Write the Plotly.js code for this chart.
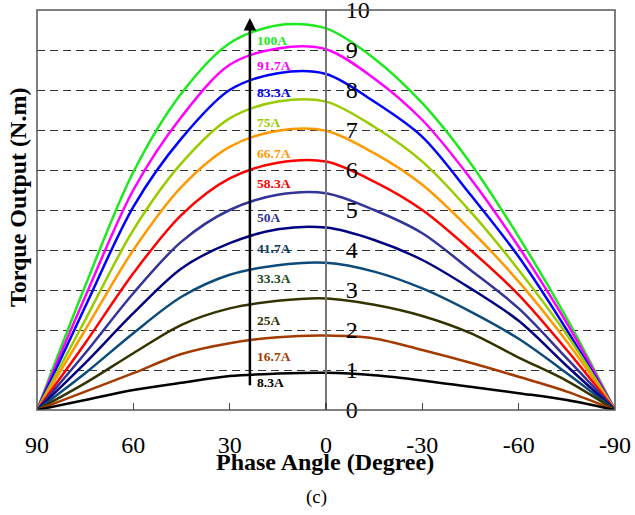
<!DOCTYPE html>
<html>
<head>
<meta charset="utf-8">
<script src="https://cdn.plot.ly/plotly-3.0.1.min.js"></script>
<style>html,body{margin:0;padding:0;background:#fff;}#chart{width:635px;height:515px;}</style>
</head>
<body>
<div id="chart"></div>
<script>
// Phase angle (degree)
const angles = [90, 75, 60, 45, 30, 15, 0, -15, -30, -45, -60, -75, -90];

// Series names (currents)
const currents = ['100A', '91.7A', '83.3A', '75A', '66.7A', '58.3A', '50A', '41.7A', '33.3A', '25A', '16.7A', '8.3A'];

// Torque output (N.m) per current, read at each angle
const t100  = [0, 3.10, 5.95, 7.92, 9.17, 9.62, 9.54, 8.79, 7.67, 6.17, 4.33, 2.29, 0];
const t917  = [0, 2.83, 5.50, 7.33, 8.63, 9.04, 9.02, 8.29, 7.25, 5.79, 4.08, 2.17, 0];
const t833  = [0, 2.58, 5.08, 6.79, 8.00, 8.42, 8.40, 7.71, 6.83, 5.38, 3.83, 2.00, 0];
const t75   = [0, 2.25, 4.50, 6.17, 7.29, 7.71, 7.71, 7.08, 6.21, 4.96, 3.50, 1.88, 0];
const t667  = [0, 2.00, 4.00, 5.58, 6.58, 6.98, 6.98, 6.42, 5.63, 4.50, 3.21, 1.71, 0];
const t583  = [0, 1.67, 3.42, 4.88, 5.79, 6.18, 6.21, 5.71, 5.00, 4.00, 2.88, 1.50, 0];
const t50   = [0, 1.42, 2.92, 4.21, 5.00, 5.38, 5.42, 5.00, 4.42, 3.50, 2.54, 1.29, 0];
const t417  = [0, 1.17, 2.42, 3.54, 4.17, 4.52, 4.56, 4.25, 3.75, 3.04, 2.23, 1.10, 0];
const t333  = [0, 0.92, 1.92, 2.83, 3.38, 3.62, 3.68, 3.46, 3.04, 2.46, 1.78, 0.92, 0];
const t25   = [0, 0.67, 1.42, 2.13, 2.54, 2.73, 2.79, 2.63, 2.35, 1.92, 1.31, 0.73, 0];
const t167  = [0, 0.46, 0.92, 1.40, 1.67, 1.82, 1.86, 1.79, 1.50, 1.18, 0.83, 0.46, 0];
const t83   = [0, 0.25, 0.50, 0.68, 0.85, 0.91, 0.93, 0.87, 0.74, 0.58, 0.42, 0.25, 0];

// Axis ticks
const xTicks = [90, 60, 30, 0, -30, -60, -90];
const yTicks = [0, 1, 2, 3, 4, 5, 6, 7, 8, 9, 10];

const seriesValues = [t100, t917, t833, t75, t667, t583, t50, t417, t333, t25, t167, t83];
const lineColors = ['#1ee81e', '#ff00ff', '#0000ff', '#99cc00', '#ff9900', '#ff0000',
                    '#333399', '#000080', '#0b4a7a', '#333300', '#a33a00', '#000000'];
const labelColors = ['#1ee81e', '#ff00ff', '#0000ff', '#99cc00', '#ff9900', '#ff0000',
                     '#333399', '#0b3d66', '#1a4a1a', '#333300', '#a33a00', '#000000'];
const labelPosY = [9.25, 8.62, 7.95, 7.2, 6.42, 5.67, 4.82, 4.05, 3.3, 2.25, 1.35, 0.7];

const serif = 'Liberation Serif, Times New Roman, serif';

const traces = seriesValues.map((vals, i) => ({
  x: angles,
  y: vals,
  type: 'scatter',
  mode: 'lines',
  name: currents[i],
  line: {color: lineColors[i], width: 2.5, shape: 'spline', smoothing: 0.9},
  hoverinfo: 'skip'
}));

const L = 37, R = 20, T = 10, B = 105, W = 635, H = 515;
const pw = W - L - R, ph = H - T - B;
const px = v => (v - L) / pw;          // pixel x -> paper
const py = v => (H - B - v) / ph;      // pixel y -> paper

const annotations = currents.map((c, i) => ({
  x: 22.2, y: labelPosY[i], xref: 'x', yref: 'y',
  text: '<b>' + c + '</b>', showarrow: false,
  xanchor: 'left', yanchor: 'middle',
  font: {family: serif, size: 13.5, color: labelColors[i]}
}));

// arrow
annotations.push({
  x: 23.7, y: 9.8, ax: 23.7, ay: 0.58, xref: 'x', yref: 'y', axref: 'x', ayref: 'y',
  text: '', showarrow: true, arrowhead: 2, arrowsize: 1, arrowwidth: 2.5, arrowcolor: '#000'
});
// y title
annotations.push({
  x: px(18), y: py(198), xref: 'paper', yref: 'paper', text: '<b>Torque Output (N.m)</b>',
  showarrow: false, textangle: -90, xanchor: 'center', yanchor: 'middle',
  font: {family: serif, size: 24, color: '#000'}
});
// x title
annotations.push({
  x: px(325), y: py(462), xref: 'paper', yref: 'paper', text: '<b>Phase Angle (Degree)</b>',
  showarrow: false, xanchor: 'center', yanchor: 'middle',
  font: {family: serif, size: 24, color: '#000'}
});
// (c)
annotations.push({
  x: px(316), y: py(497), xref: 'paper', yref: 'paper', text: '(c)', showarrow: false,
  xanchor: 'center', yanchor: 'middle', font: {family: serif, size: 19, color: '#000'}
});

const layout = {
  width: W, height: H,
  margin: {l: L, r: R, t: T, b: B, pad: 0},
  paper_bgcolor: '#fff', plot_bgcolor: '#fff',
  showlegend: false,
  hovermode: false,
  font: {family: serif, color: '#000'},
  xaxis: {
    range: [90, -90], tickvals: xTicks, ticktext: xTicks.map(String),
    ticks: 'inside', ticklen: 7, tickwidth: 1.5, tickcolor: '#444',
    showgrid: false, zeroline: false, showline: false,
    ticklabelstandoff: 18, ticklabeloverflow: 'allow',
    tickfont: {family: serif, size: 24, color: '#000'}
  },
  yaxis: {
    range: [0, 10], tickvals: yTicks, anchor: 'free', position: 0.5, side: 'right',
    showgrid: true, gridcolor: '#333', gridwidth: 1, griddash: '8px,5px',
    zeroline: false, showline: true, linecolor: '#777', linewidth: 2,
    ticks: '', ticklabelstandoff: 14, ticklabeloverflow: 'allow',
    tickfont: {family: serif, size: 24, color: '#000'}
  },
  shapes: [{
    type: 'rect', xref: 'paper', yref: 'paper', x0: 0, x1: 1, y0: 0, y1: 1,
    line: {color: '#555', width: 1.5}, fillcolor: 'rgba(0,0,0,0)', layer: 'above'
  }],
  annotations: annotations
};

Plotly.newPlot('chart', traces, layout, {displayModeBar: false, staticPlot: true});
</script>
</body>
</html>
